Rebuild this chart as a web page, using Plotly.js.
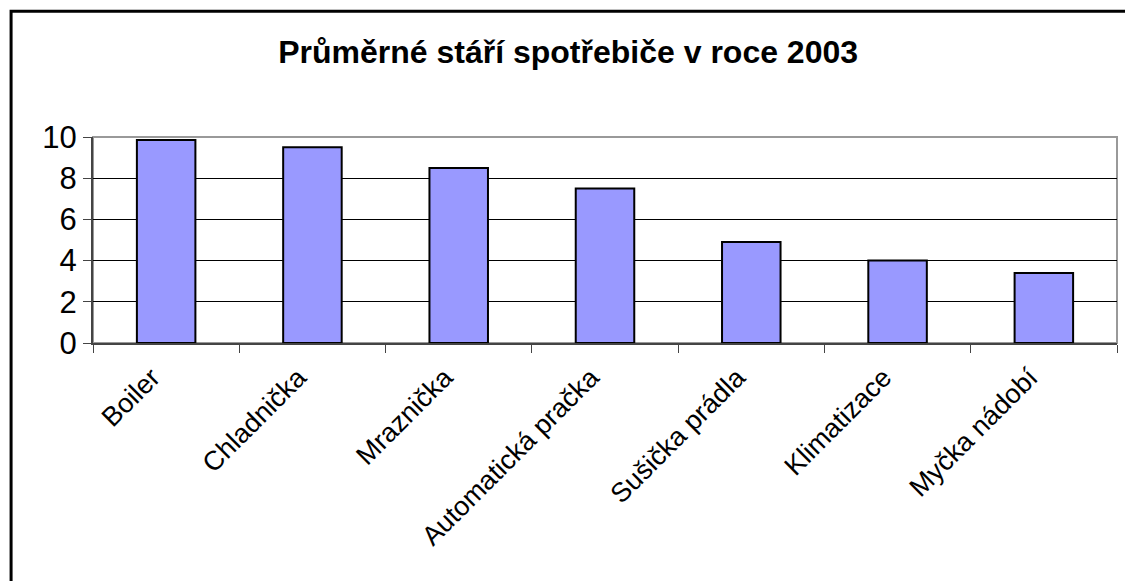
<!DOCTYPE html>
<html>
<head>
<meta charset="utf-8">
<script src="https://cdn.plot.ly/plotly-3.0.1.min.js"></script>
<style>
  body { margin: 0; background: #fff; }
  #graph { width: 1125px; height: 581px; }
</style>
</head>
<body>
<div id="graph"></div>
<script>
var spotrebice = ["Boiler", "Chladnička", "Mraznička", "Automatická pračka", "Sušička prádla", "Klimatizace", "Myčka nádobí"];
var prumerneStari = [9.85, 9.5, 8.5, 7.5, 4.9, 4.0, 3.4];
var osaY = [0, 2, 4, 6, 8, 10];

function graficarStari() {
    var data = [
        {
            x: spotrebice,
            y: prumerneStari,
            type: 'bar',
            marker: {
                color: 'rgb(153, 153, 255)',
                line: { color: '#000', width: 2 }
            },
            hoverinfo: 'x+y'
        }
    ];

    var layout = {
        title: {
            text: '<b>Průměrné stáří spotřebiče v roce 2003</b>',
            font: { family: 'Liberation Sans, Arial, sans-serif', size: 32, color: '#000' },
            x: 0.505,
            xanchor: 'center',
            y: 0.91,
            yanchor: 'middle'
        },
        font: { family: 'Liberation Sans, Arial, sans-serif', color: '#000' },
        paper_bgcolor: '#fff',
        plot_bgcolor: '#fff',
        showlegend: false,
        bargap: 0.6,
        margin: { l: 93, r: 8, t: 137, b: 238 },
        xaxis: {
            type: 'category',
            tickangle: -45,
            tickson: 'boundaries',
            ticks: 'outside',
            ticklen: 8,
            tickcolor: '#444',
            tickfont: { size: 27, color: '#000' },
            ticklabelshift: -14,
            ticklabelstandoff: 6,
            showline: true,
            linecolor: '#444',
            linewidth: 2,
            showgrid: false,
            automargin: false,
            fixedrange: true
        },
        yaxis: {
            range: [0, 10],
            tickvals: osaY,
            ticks: 'outside',
            ticklen: 8,
            tickcolor: '#444',
            tickfont: { size: 31, color: '#000' },
            showline: true,
            linecolor: '#444',
            linewidth: 2,
            showgrid: true,
            gridcolor: '#000',
            gridwidth: 1,
            zeroline: false,
            automargin: false,
            fixedrange: true
        },
        shapes: [
            {
                type: 'rect', xref: 'paper', yref: 'paper',
                x0: 0, x1: 1, y0: 0, y1: 1,
                line: { color: '#999', width: 2 },
                layer: 'below'
            },
            {
                type: 'rect', xref: 'paper', yref: 'paper',
                x0: -0.080, x1: 1.2, y0: -1.3, y1: 1.611,
                line: { color: '#000', width: 3 }
            }
        ]
    };

    Plotly.newPlot('graph', data, layout, { displayModeBar: false });
}

graficarStari();
</script>
</body>
</html>
